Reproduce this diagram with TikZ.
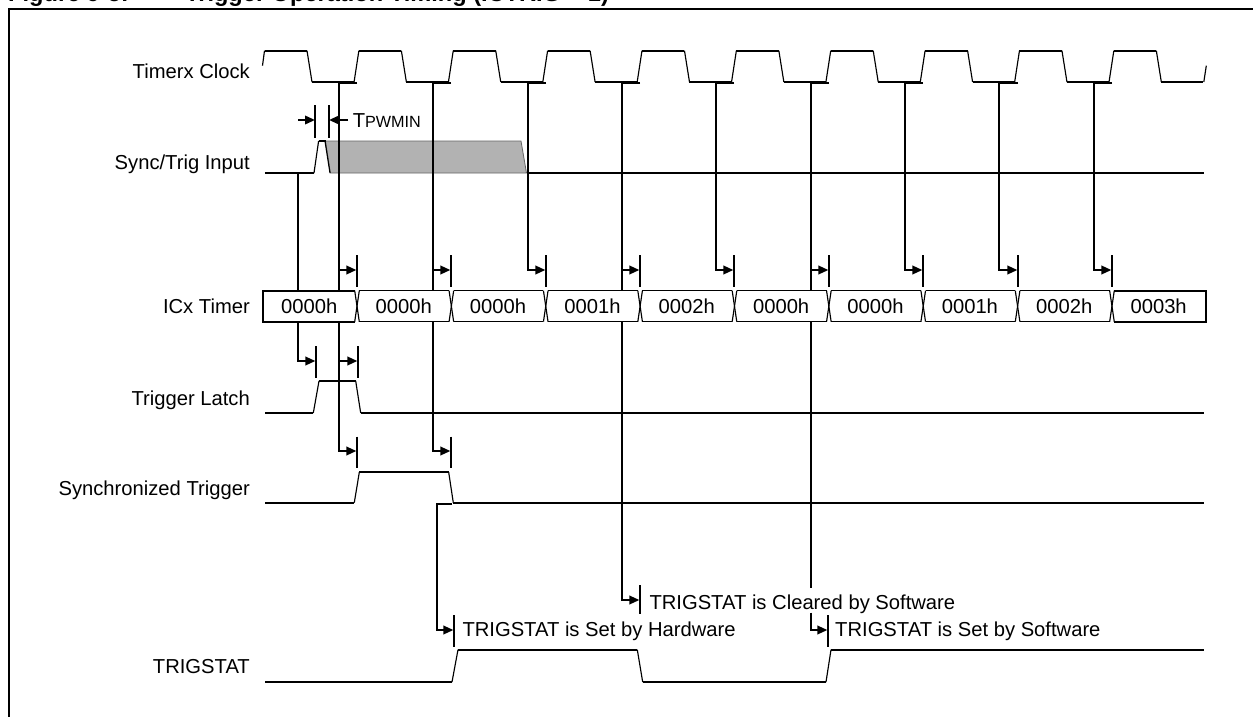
\documentclass[tikz,border=0pt]{standalone}
\usepackage{fontspec}
\setmainfont{Liberation Sans}
\usetikzlibrary{arrows.meta}
\tikzset{
  thickline/.style={line width=1.75pt,line cap=butt,line join=miter},
  thinline/.style={line width=1.15pt,line join=miter},
  conn/.style={line width=2pt,-{Triangle[length=10pt,width=8.5pt]},shorten >=0.6pt},
  plainconn/.style={line width=2pt},
  tickmark/.style={line width=2pt},
  lbl/.style={inner sep=0pt,anchor=base east,font=\fontsize{20.2}{24}\selectfont},
  msg/.style={inner sep=0pt,anchor=base west,font=\fontsize{20.2}{24}\selectfont},
  val/.style={inner sep=0pt,anchor=base,font=\fontsize{20.2}{24}\selectfont},
}
\begin{document}
\begin{tikzpicture}[x=1pt,y=-1pt]
\useasboundingbox (0,0) rectangle (1253,717);
\clip (0,0) rectangle (1253,717);
% title and frame
\node[inner sep=0pt,anchor=base west,font=\fontsize{23.6}{28}\selectfont\bfseries] (title) at (8,1.5) {Figure 9-5:};
\node[inner sep=0pt,anchor=base west,font=\fontsize{23.6}{28}\selectfont\bfseries] (titleb) at (185,1.5) {Trigger Operation Timing (ICTRIG = 1)};
\draw[line width=2pt] (9,717) -- (9,9.3) -- (1253,9.3);
% labels
\node[lbl] (lclock) at (250,78.3) {Timerx Clock};
\node[lbl] (lsync) at (250,169.3) {Sync/Trig Input};
\node[lbl] (licx) at (250,313.7) {ICx Timer};
\node[lbl] (llatch) at (250,405.7) {Trigger Latch};
\node[lbl] (lsynced) at (250,495) {Synchronized Trigger};
\node[lbl] (ltrig) at (250,673.5) {TRIGSTAT};
% clock
\draw[thinline] (262.5,65.7) -- (264.5,50.7);
\foreach \k in {0,...,9}{
  \pgfmathsetmacro{\t}{264.5+94.37*\k}
  \draw[thinline] (\t+42.5,50.7) -- (\t+47.5,82);
  \draw[thickline] (\t,50.7) -- (\t+42.5,50.7);
  \draw[thickline] (\t+47.5,82) -- (\t+89.5,82);
}
\foreach \k in {1,...,9}{
  \pgfmathsetmacro{\t}{264.5+94.37*\k}
  \draw[thinline] (\t-4.8,82) -- (\t,50.7);
}
\draw[thinline] (1203.8,82) -- (1206.3,65.7);
% sync/trig input
\draw[fill=black!30,draw=black!60,line width=0.8pt] (325.5,141) -- (521,141) -- (526.5,173) -- (330.4,173) -- cycle;
\draw[thinline] (314,173) -- (318.6,141);
\draw[thinline] (325,141) -- (330,173);
\draw[thickline] (264.8,173) -- (314,173);
\draw[thickline] (318.6,141) -- (325.5,141);
\draw[thickline] (526.5,173) -- (1204,173);
% tpwmin
\coordinate (pa) at (315,120);
\coordinate (pb) at (329,120);
\coordinate (pal) at (298.4,120);
\coordinate (pbr) at (348,120);
\draw[tickmark] (315,105) -- (315,137.7);
\draw[tickmark] (329,105) -- (329,137.7);
\draw[line width=2pt,-{Triangle[length=10pt,width=8.5pt]}] (pal) -- (pa);
\draw[line width=2pt,-{Triangle[length=10pt,width=8.5pt]}] (pbr) -- (pb);
\node[inner sep=0pt,anchor=base west] (tp) at (352.6,127) {\fontsize{20.2}{24}\selectfont T\fontsize{16.2}{20}\selectfont PWMIN};
% clock-derived verticals
\foreach \k in {0,...,8}{
  \pgfmathsetmacro{\x}{round(338.9+94.37*\k)}
  \pgfmathsetmacro{\xt}{round(357+94.37*\k)}
  \coordinate (v\k) at (\x,82.8);
  \coordinate (s\k) at (\xt,82.8);
  \coordinate (t\k) at (\xt,270);
  \draw[plainconn] (s\k) -- (v\k);
  \draw[conn] (v\k) |- (t\k);
  \draw[tickmark] (\xt,255) -- (\xt,286.7);
}
% sync line to latch
\coordinate (a0) at (298,173);
\coordinate (a1) at (316,361);
\draw[conn] (a0) |- (a1);
\draw[tickmark] (316,346) -- (316,377.7);
\coordinate (a2) at (358,361);
\draw[conn] (v0) |- (a2);
\draw[tickmark] (358,346) -- (358,377.7);
\coordinate (a3) at (357,451);
\draw[conn] (v0) |- (a3);
\draw[tickmark] (357,436.7) -- (357,468);
\coordinate (a4) at (451,451);
\draw[conn] (v1) |- (a4);
\draw[tickmark] (451,436.7) -- (451,468);
\coordinate (a5) at (640,600);
\draw[conn] (v3) |- (a5);
\draw[tickmark] (640,585) -- (640,614);
\coordinate (a6) at (811,588);
\draw[plainconn] (v5) -- (a6);
\coordinate (a7) at (811,612.7);
\coordinate (a8) at (828,630);
\draw[conn] (a7) |- (a8);
\draw[tickmark] (828,615) -- (828,646.7);
\coordinate (a9) at (451.7,504);
\coordinate (a10) at (454,630);
\draw[conn] (a9) -| (437,580) |- (a10);
\draw[tickmark] (454,615) -- (454,646.7);
% ICx timer
\fill[white] (262.7,290.7) rectangle (1206.3,321.7);
\draw[thickline] (354.7,290.7) -- (262.7,290.7) -- (262.7,321.7) -- (354.7,321.7);
\foreach \k in {0,...,8}{
  \pgfmathsetmacro{\c}{357+94.37*\k}
  \draw[thinline] (\c-2.3,290.7) -- (\c+2.3,321.7);
  \draw[thinline] (\c+2.3,290.7) -- (\c-2.3,321.7);
}
\foreach \k in {0,...,7}{
  \pgfmathsetmacro{\c}{357+94.37*\k}
  \draw[thinline] (\c+2.3,290.7) -- (\c+92.07,290.7);
  \draw[thinline] (\c+2.3,321.7) -- (\c+92.07,321.7);
}
\draw[thickline] (1114.3,290.7) -- (1206.3,290.7) -- (1206.3,321.7) -- (1114.3,321.7);
\foreach \k/\v in {0/0000h,1/0000h,2/0000h,3/0001h,4/0002h,5/0000h,6/0000h,7/0001h,8/0002h,9/0003h}{
  \pgfmathsetmacro{\c}{309.3+94.37*\k}
  \node[val] (box\k) at (\c,313.7) {\v};
}
% trigger latch
\draw[thinline] (313.3,413) -- (319,381);
\draw[thinline] (355.7,381) -- (360.7,413);
\draw[thickline] (265,413) -- (313.3,413);
\draw[thickline] (319,381) -- (355.7,381);
\draw[thickline] (360.7,413) -- (1204,413);
% synchronized trigger
\draw[thinline] (354.3,502.7) -- (359.3,472.3);
\draw[thinline] (448.7,472.3) -- (453.3,502.7);
\draw[thickline] (265,502.7) -- (354.3,502.7);
\draw[thickline] (359.3,472.3) -- (448.7,472.3);
\draw[thickline] (453.3,502.7) -- (1204,502.7);
% trigstat
\draw[thinline] (452,682) -- (458,649.7);
\draw[thinline] (637.3,649.7) -- (642.7,682);
\draw[thinline] (826,682) -- (831,649.7);
\draw[thickline] (265,682) -- (452,682);
\draw[thickline] (458,649.7) -- (637.3,649.7);
\draw[thickline] (642.7,682) -- (826,682);
\draw[thickline] (831,649.7) -- (1204,649.7);
% messages
\node[msg] (m1) at (462.3,636.7) {TRIGSTAT is Set by Hardware};
\node[msg] (m2) at (649.3,609) {TRIGSTAT is Cleared by Software};
\node[msg] (m3) at (835,636.7) {TRIGSTAT is Set by Software};
\end{tikzpicture}
\end{document}
